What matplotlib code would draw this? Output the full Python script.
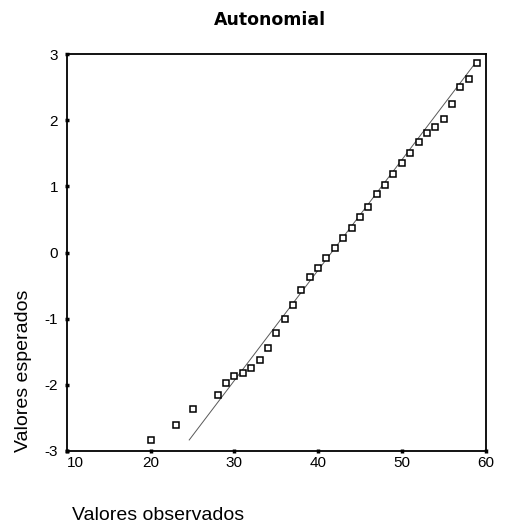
import numpy as np
import matplotlib
matplotlib.use("Agg")
import matplotlib.pyplot as plt

observed = [20, 23, 25, 28, 29, 30, 31, 32, 33, 34, 35, 36, 37, 38, 39, 40,
            41, 42, 43, 44, 45, 46, 47, 48, 49, 50, 51, 52, 53, 54, 55, 56,
            57, 58, 59]
expected = [-2.84, -2.60, -2.36, -2.16, -1.97, -1.87, -1.82, -1.74, -1.62,
            -1.44, -1.21, -1.01, -0.80, -0.57, -0.37, -0.24, -0.08, 0.07,
            0.22, 0.37, 0.53, 0.69, 0.89, 1.02, 1.19, 1.35, 1.50, 1.67,
            1.81, 1.89, 2.02, 2.25, 2.50, 2.63, 2.86]

# reference line y = (x - mean) / sd
ref_mean = 41.6
ref_sd = 6.0
ref_x = [24.6, 59.0]

x_ticks = [10, 20, 30, 40, 50, 60]
y_ticks = [-3, -2, -1, 0, 1, 2, 3]


def main():
    fig = plt.figure(figsize=(5.05, 5.26), dpi=100)
    ax = fig.add_axes([0.1327, 0.1426, 0.8287, 0.7547])

    ref_y = [(v - ref_mean) / ref_sd for v in ref_x]
    ax.plot(ref_x, ref_y, color='0.35', linewidth=0.7)
    ax.plot(observed, expected, linestyle='none', marker='s', ms=5,
            mfc='white', mec='black', mew=1.1)

    ax.set_xlim(10, 60)
    ax.set_ylim(-3, 3)
    ax.set_xticks(x_ticks)
    ax.set_yticks(y_ticks)
    ax.set_xticklabels([str(t) for t in x_ticks], family='Liberation Sans', fontsize=11)
    ax.set_yticklabels([str(t) for t in y_ticks], family='Liberation Sans', fontsize=11)
    ax.get_xticklabels()[0].set_horizontalalignment('left')
    ax.tick_params(direction='inout', length=3, width=2.5, color='black')
    ax.tick_params(axis='x', pad=2)
    ax.tick_params(axis='y', pad=5)
    for s in ax.spines.values():
        s.set_linewidth(1.3)

    fig.text(270 / 505, 1 - 20 / 526, 'Autonomial', ha='center', va='center',
             family='DejaVu Sans', fontweight='bold', fontsize=12.5)
    fig.text(72 / 505, 1 - 515 / 526, 'Valores observados', ha='left', va='center',
             family='Liberation Sans', fontsize=14)
    fig.text(24 / 505, 1 - 371 / 526, 'Valores esperados', ha='center', va='center',
             rotation=90, family='Liberation Sans', fontsize=14)

    fig.savefig('out.png', dpi=100)
    plt.close(fig)


if __name__ == "__main__":
    main()
